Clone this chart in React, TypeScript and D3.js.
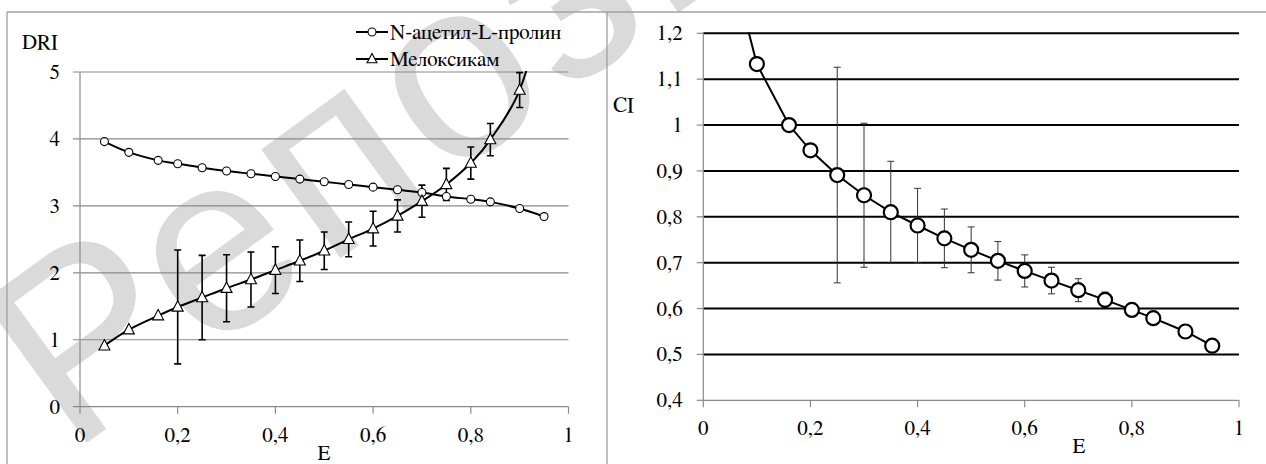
import React from "react";
import * as d3 from "d3";

// ---- data ----
const E_VALUES = [0.05, 0.1, 0.16, 0.2, 0.25, 0.3, 0.35, 0.4, 0.45, 0.5, 0.55, 0.6, 0.65, 0.7, 0.75, 0.8, 0.84, 0.9, 0.95];
const ACETYL_DRI = [3.96, 3.8, 3.68, 3.63, 3.57, 3.52, 3.48, 3.44, 3.4, 3.36, 3.32, 3.28, 3.24, 3.2, 3.14, 3.1, 3.06, 2.96, 2.84];
const MELOX_DRI = [0.91, 1.15, 1.36, 1.49, 1.63, 1.77, 1.9, 2.04, 2.18, 2.33, 2.5, 2.66, 2.85, 3.07, 3.32, 3.64, 3.99, 4.73, 6.0];
const MELOX_ERR = [0, 0, 0, 0.85, 0.63, 0.5, 0.41, 0.35, 0.31, 0.28, 0.26, 0.26, 0.24, 0.24, 0.24, 0.24, 0.24, 0.26, 0];
const CI_VALUES = [1.36, 1.133, 1.0, 0.945, 0.891, 0.847, 0.81, 0.781, 0.753, 0.728, 0.704, 0.682, 0.661, 0.64, 0.619, 0.597, 0.579, 0.55, 0.519];
const CI_ERR = [0, 0, 0, 0, 0.235, 0.157, 0.111, 0.081, 0.064, 0.05, 0.042, 0.035, 0.029, 0.025, 0.017, 0, 0, 0, 0];
const LEFT_Y_TICKS = [0, 1, 2, 3, 4, 5];
const RIGHT_Y_TICKS = [0.4, 0.5, 0.6, 0.7, 0.8, 0.9, 1.0, 1.1, 1.2];
const X_TICKS = [0, 0.2, 0.4, 0.6, 0.8, 1];
const SERIES_NAMES = ["N-ацетил-L-пролин", "Мелоксикам"];

const FONT = "FreeSerif, serif";
const fmt = (v: number) => (Math.round(v * 10) / 10).toString().replace(".", ",");

export default function App() {
  // left chart scales
  const lx = d3.scaleLinear().domain([0, 1]).range([80, 568.5]);
  const ly = d3.scaleLinear().domain([0, 5]).range([406.7, 72]);
  // right chart scales
  const rx = d3.scaleLinear().domain([0, 1]).range([703.3, 1239]);
  const ry = d3.scaleLinear().domain([0.4, 1.2]).range([400.3, 33.3]);

  const acetylPath = d3.line<number>().curve(d3.curveCatmullRom.alpha(0)).x((_, i) => lx(E_VALUES[i])).y((v) => ly(v))(ACETYL_DRI) || "";
  const meloxPath = d3.line<number>().curve(d3.curveCatmullRom.alpha(0)).x((_, i) => lx(E_VALUES[i])).y((v) => ly(v))(MELOX_DRI) || "";
  const ciPath = d3.line<number>().x((_, i) => rx(E_VALUES[i])).y((v) => ry(v))(CI_VALUES) || "";

  const tri = (cx: number, cy: number, s: number) =>
    `M${cx},${cy - s * 0.62}L${cx + s * 0.55},${cy + s * 0.42}L${cx - s * 0.55},${cy + s * 0.42}Z`;

  return (
    <svg width={1266} height={464} style={{ display: "block", position: "absolute", left: 0, top: 0 }} viewBox="0 0 1266 464">
      <defs>
        <clipPath id="clipL">
          <rect x={lx(0)} y={ly(5) - 1} width={lx(1) - lx(0) + 10} height={ly(0) - ly(5) + 2} />
        </clipPath>
        <clipPath id="clipR">
          <rect x={rx(0)} y={ry(1.2) - 1} width={rx(1) - rx(0) + 10} height={ry(0.4) - ry(1.2) + 2} />
        </clipPath>
      </defs>
      <rect x={0} y={0} width={1266} height={464} fill="#fff" />
      {/* watermark */}
      <text
        transform="translate(70,455) rotate(-36)"
        fontFamily="Liberation Sans, Arial, sans-serif"
        fontSize={255}
        letterSpacing={8}
        fill="#dadada"
      >
        Репозиторий
      </text>
      {/* frames */}
      <g stroke="#a0a0a0" strokeWidth={1.3} fill="none">
        <line x1={7} y1={12} x2={1266} y2={12} />
        <line x1={7} y1={12} x2={7} y2={464} />
        <line x1={607} y1={12} x2={607} y2={464} />
      </g>

      {/* ---------- LEFT CHART ---------- */}
      <g fontFamily={FONT} fontSize={21} fill="#000">
        {LEFT_Y_TICKS.map((t) => (
          <g key={t}>
            <line x1={73} x2={lx(1)} y1={ly(t)} y2={ly(t)} stroke="#8a8a8a" strokeWidth={1.2} />
            <text x={60} y={ly(t) + 7} textAnchor="end">
              {fmt(t)}
            </text>
          </g>
        ))}
        <line x1={lx(0)} x2={lx(0)} y1={ly(5)} y2={ly(0)} stroke="#8a8a8a" strokeWidth={1.2} />
        {X_TICKS.map((t) => (
          <g key={t}>
            <line x1={lx(t)} x2={lx(t)} y1={ly(0)} y2={ly(0) + 7} stroke="#8a8a8a" strokeWidth={1.2} />
            <text x={lx(t)} y={ly(0) + 35} textAnchor="middle">
              {fmt(t)}
            </text>
          </g>
        ))}
        <text x={22} y={49}>DRI</text>
        <text x={324} y={460} textAnchor="middle">E</text>

        <g clipPath="url(#clipL)">
          <path d={acetylPath} fill="none" stroke="#000" strokeWidth={2} />
          <path d={meloxPath} fill="none" stroke="#000" strokeWidth={2} />
          {MELOX_DRI.map((v, i) =>
            MELOX_ERR[i] > 0 ? (
              <g key={"e" + i} stroke="#000" strokeWidth={1.6}>
                <line x1={lx(E_VALUES[i])} x2={lx(E_VALUES[i])} y1={ly(v + MELOX_ERR[i])} y2={ly(v - MELOX_ERR[i])} />
                <line x1={lx(E_VALUES[i]) - 3.5} x2={lx(E_VALUES[i]) + 3.5} y1={ly(v + MELOX_ERR[i])} y2={ly(v + MELOX_ERR[i])} />
                <line x1={lx(E_VALUES[i]) - 3.5} x2={lx(E_VALUES[i]) + 3.5} y1={ly(v - MELOX_ERR[i])} y2={ly(v - MELOX_ERR[i])} />
              </g>
            ) : null
          )}
          {ACETYL_DRI.map((v, i) => (
            <circle key={"a" + i} cx={lx(E_VALUES[i])} cy={ly(v)} r={4} fill="#fff" stroke="#000" strokeWidth={1.1} />
          ))}
          {MELOX_DRI.map((v, i) => (
            <path key={"m" + i} d={tri(lx(E_VALUES[i]), ly(v), 10)} fill="#fff" stroke="#000" strokeWidth={1.1} />
          ))}
        </g>

        {/* legend */}
        <g>
          <line x1={356} x2={388} y1={32} y2={32} stroke="#000" strokeWidth={2} />
          <circle cx={372} cy={32} r={4} fill="#fff" stroke="#000" strokeWidth={1.1} />
          <text x={390} y={39}>{SERIES_NAMES[0]}</text>
          <line x1={356} x2={388} y1={59} y2={59} stroke="#000" strokeWidth={2} />
          <path d={tri(372, 59, 9)} fill="#fff" stroke="#000" strokeWidth={1.1} />
          <text x={390} y={66}>{SERIES_NAMES[1]}</text>
        </g>
      </g>

      {/* ---------- RIGHT CHART ---------- */}
      <g fontFamily={FONT} fontSize={21} fill="#000">
        {RIGHT_Y_TICKS.map((t) => (
          <g key={t}>
            <line x1={696.7} x2={rx(0)} y1={ry(t)} y2={ry(t)} stroke="#8a8a8a" strokeWidth={1.2} />
            {t > 0.45 ? (
              <line x1={rx(0)} x2={rx(1)} y1={ry(t)} y2={ry(t)} stroke="#000" strokeWidth={2} />
            ) : null}
            <text x={682.7} y={ry(t) + 7} textAnchor="end">
              {fmt(t)}
            </text>
          </g>
        ))}
        <line x1={rx(0)} x2={rx(1)} y1={ry(0.4)} y2={ry(0.4)} stroke="#8a8a8a" strokeWidth={1.2} />
        <line x1={rx(0)} x2={rx(0)} y1={ry(1.2)} y2={ry(0.4)} stroke="#8a8a8a" strokeWidth={1.2} />
        {X_TICKS.map((t) => (
          <g key={t}>
            <line x1={rx(t)} x2={rx(t)} y1={ry(0.4)} y2={ry(0.4) + 7} stroke="#8a8a8a" strokeWidth={1.2} />
            <text x={rx(t)} y={ry(0.4) + 35} textAnchor="middle">
              {fmt(t)}
            </text>
          </g>
        ))}
        <text x={613} y={112}>CI</text>
        <text x={1079} y={453} textAnchor="middle">E</text>

        <g clipPath="url(#clipR)">
          {CI_VALUES.map((v, i) =>
            CI_ERR[i] > 0 ? (
              <g key={"ce" + i} stroke="#333" strokeWidth={1}>
                <line x1={rx(E_VALUES[i])} x2={rx(E_VALUES[i])} y1={ry(v + CI_ERR[i])} y2={ry(v - CI_ERR[i])} />
                <line x1={rx(E_VALUES[i]) - 3.5} x2={rx(E_VALUES[i]) + 3.5} y1={ry(v + CI_ERR[i])} y2={ry(v + CI_ERR[i])} />
                <line x1={rx(E_VALUES[i]) - 3.5} x2={rx(E_VALUES[i]) + 3.5} y1={ry(v - CI_ERR[i])} y2={ry(v - CI_ERR[i])} />
              </g>
            ) : null
          )}
          <path d={ciPath} fill="none" stroke="#000" strokeWidth={2} />
          {CI_VALUES.map((v, i) => (
            <circle key={"c" + i} cx={rx(E_VALUES[i])} cy={ry(v)} r={7} fill="#fff" stroke="#000" strokeWidth={2.2} />
          ))}
        </g>
      </g>
    </svg>
  );
}
